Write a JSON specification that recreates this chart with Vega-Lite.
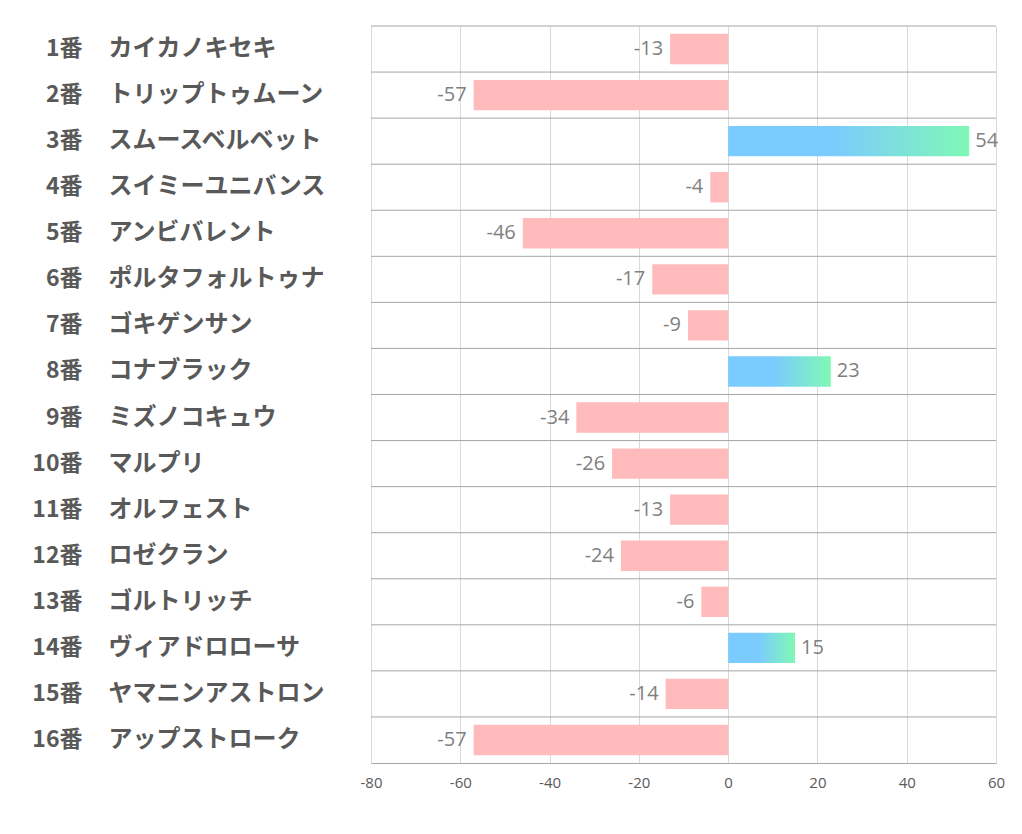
{
  "$schema": "https://vega.github.io/schema/vega-lite/v6.json",
  "autosize": "none",
  "width": 625,
  "height": 737,
  "padding": {"left": 371, "top": 26, "right": 26, "bottom": 71},
  "background": "white",
  "config": {"view": {"stroke": null}},
  "data": {
    "values": [
      {"key": "1番カイカノキセキ", "v": -13},
      {"key": "2番トリップトゥムーン", "v": -57},
      {"key": "3番スムースベルベット", "v": 54},
      {"key": "4番スイミーユニバンス", "v": -4},
      {"key": "5番アンビバレント", "v": -46},
      {"key": "6番ポルタフォルトゥナ", "v": -17},
      {"key": "7番ゴキゲンサン", "v": -9},
      {"key": "8番コナブラック", "v": 23},
      {"key": "9番ミズノコキュウ", "v": -34},
      {"key": "10番マルプリ", "v": -26},
      {"key": "11番オルフェスト", "v": -13},
      {"key": "12番ロゼクラン", "v": -24},
      {"key": "13番ゴルトリッチ", "v": -6},
      {"key": "14番ヴィアドロローサ", "v": 15},
      {"key": "15番ヤマニンアストロン", "v": -14},
      {"key": "16番アップストローク", "v": -57}
    ]
  },
  "resolve": {"axis": {"y": "independent"}},
  "layer": [
    {
      "mark": {"type": "rule", "color": "#A6A6A6", "strokeWidth": 1},
      "encoding": {
        "y": {"field": "key", "type": "nominal", "bandPosition": 0,
          "scale": {"domain": ["1番カイカノキセキ","2番トリップトゥムーン","3番スムースベルベット","4番スイミーユニバンス","5番アンビバレント","6番ポルタフォルトゥナ","7番ゴキゲンサン","8番コナブラック","9番ミズノコキュウ","10番マルプリ","11番オルフェスト","12番ロゼクラン","13番ゴルトリッチ","14番ヴィアドロローサ","15番ヤマニンアストロン","16番アップストローク"], "paddingInner": 0, "paddingOuter": 0},
          "axis": {"orient": "left", "title": null, "domain": false, "ticks": false, "grid": false,
            "labelExpr": "substring(datum.label, 0, indexof(datum.label, '番') + 1)",
            "labelAlign": "right", "labelPadding": 289, "labelLimit": 200, "labelFont": "Noto Sans CJK JP", "labelFontWeight": "bold", "labelFontSize": 23, "labelColor": "#595959"}},
        "x": {"datum": -80, "type": "quantitative"},
        "x2": {"datum": 60}
      }
    },
    {
      "transform": [{"filter": "datum.v < 0"}],
      "mark": {"type": "bar", "color": "#FFBBBC", "height": {"band": 0.66}},
      "encoding": {
        "y": {"field": "key", "type": "nominal",
          "axis": {"orient": "left", "title": null, "domain": false, "ticks": false, "grid": false,
            "labelExpr": "substring(datum.label, indexof(datum.label, '番') + 1)",
            "labelAlign": "left", "labelPadding": 263, "labelLimit": 400, "labelFont": "Noto Sans CJK JP", "labelFontWeight": "bold", "labelFontSize": 24, "labelColor": "#595959"}},
        "x": {"field": "v", "type": "quantitative",
          "scale": {"domain": [-80, 60], "nice": false, "zero": false},
          "axis": {"title": null, "values": [-80,-60,-40,-20,0,20,40,60], "labelExpr": "toString(datum.value)", "labelFlush": false, "grid": true, "gridColor": "#D9D9D9", "ticks": false, "domainColor": "#A6A6A6", "labelFont": "Open Sans", "labelFontSize": 15, "labelColor": "#595959", "labelPadding": 12}},
        "x2": {"datum": 0}
      }
    },
    {
      "transform": [{"filter": "datum.v > 0"}],
      "mark": {"type": "bar", "height": {"band": 0.66},
        "color": {"gradient": "linear", "x1": 0, "y1": 0, "x2": 1, "y2": 0,
          "stops": [{"offset": 0, "color": "#7ACBFF"}, {"offset": 0.45, "color": "#7BCCFD"}, {"offset": 1, "color": "#80F8B5"}]}},
      "encoding": {
        "y": {"field": "key", "type": "nominal", "axis": null},
        "x": {"field": "v", "type": "quantitative"},
        "x2": {"datum": 0}
      }
    },
    {
      "transform": [{"filter": "datum.v < 0"}],
      "mark": {"type": "text", "align": "right", "dx": -7, "font": "Open Sans", "fontSize": 20, "color": "#808080"},
      "encoding": {
        "y": {"field": "key", "type": "nominal", "axis": null},
        "x": {"field": "v", "type": "quantitative"},
        "text": {"field": "v", "type": "nominal"}
      }
    },
    {
      "transform": [{"filter": "datum.v > 0"}],
      "mark": {"type": "text", "align": "left", "dx": 6, "font": "Open Sans", "fontSize": 20, "color": "#808080"},
      "encoding": {
        "y": {"field": "key", "type": "nominal", "axis": null},
        "x": {"field": "v", "type": "quantitative"},
        "text": {"field": "v", "type": "nominal"}
      }
    }
  ]
}
